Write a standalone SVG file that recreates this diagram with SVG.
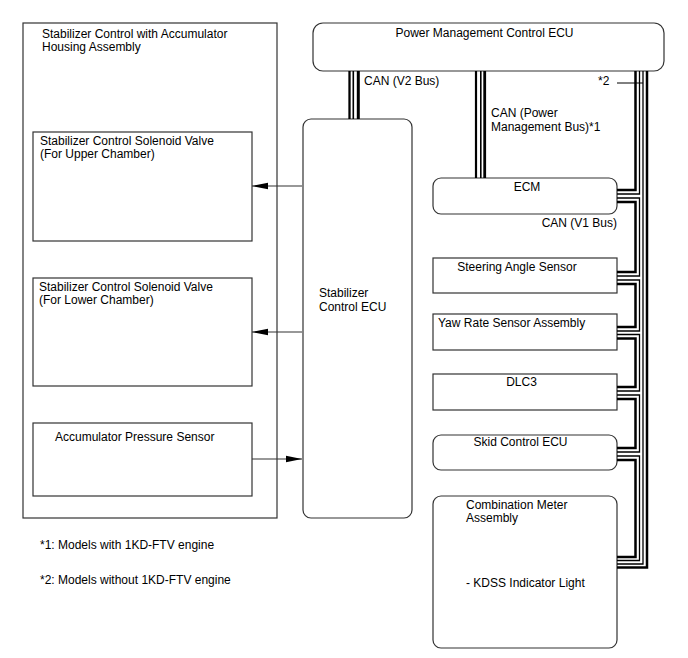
<svg xmlns="http://www.w3.org/2000/svg" width="688" height="658" viewBox="0 0 688 658">
<defs>
<style>
text{font-family:"Liberation Sans",Arial,sans-serif;font-size:12px;fill:#000}
.box{fill:#fff;stroke:#333;stroke-width:1.2}
.sig{stroke:#333;stroke-width:1.2;fill:none}
.tk{stroke:#000;stroke-width:2.5;fill:none;stroke-linejoin:miter}
.tn{stroke:#000;stroke-width:1.3;fill:none;stroke-linejoin:miter}
</style>
<marker id="ah" markerWidth="16" markerHeight="8" refX="16" refY="4" orient="auto" markerUnits="userSpaceOnUse">
<path d="M0,0.8 L16,4 L0,7.2 Z" fill="#000"/>
</marker>
</defs>
<rect width="688" height="658" fill="#fff"/>

<g id="housing">
<rect class="box" x="23" y="23" width="254" height="495"/>
<text x="42" y="38">Stabilizer Control with Accumulator</text>
<text x="42" y="50.5">Housing Assembly</text>
</g>
<g id="valve-upper">
<rect class="box" x="33" y="132" width="219" height="109"/>
<text x="40" y="145">Stabilizer Control Solenoid Valve</text>
<text x="40" y="158">(For Upper Chamber)</text>
</g>
<g id="valve-lower">
<rect class="box" x="33" y="278" width="219" height="108"/>
<text x="39" y="291">Stabilizer Control Solenoid Valve</text>
<text x="39" y="304">(For Lower Chamber)</text>
</g>
<g id="acc-sensor">
<rect class="box" x="33" y="423" width="219" height="73"/>
<text x="55" y="440.5">Accumulator Pressure Sensor</text>
</g>
<g id="stab-ecu">
<rect class="box" x="303" y="119" width="109" height="399" rx="8"/>
<text x="319" y="297">Stabilizer</text>
<text x="319" y="311">Control ECU</text>
</g>
<g id="pmc-ecu">
<rect class="box" x="313" y="23" width="351" height="48" rx="10"/>
<text x="484.5" y="36.5" text-anchor="middle">Power Management Control ECU</text>
</g>
<g id="ecm">
<rect class="box" x="433" y="178" width="184" height="36" rx="8"/>
<text x="527" y="191" text-anchor="middle">ECM</text>
</g>
<g id="steering">
<rect class="box" x="433" y="258" width="184" height="35"/>
<text x="517" y="271" text-anchor="middle">Steering Angle Sensor</text>
</g>
<g id="yaw">
<rect class="box" x="433" y="314" width="184" height="36"/>
<text x="438" y="327">Yaw Rate Sensor Assembly</text>
</g>
<g id="dlc3">
<rect class="box" x="433" y="374" width="184" height="36"/>
<text x="521.5" y="386" text-anchor="middle">DLC3</text>
</g>
<g id="skid">
<rect class="box" x="433" y="435" width="184" height="35" rx="8"/>
<text x="520.5" y="446" text-anchor="middle">Skid Control ECU</text>
</g>
<g id="meter">
<rect class="box" x="433" y="496" width="184" height="152" rx="8"/>
<text x="466" y="508.5">Combination Meter</text>
<text x="466" y="521.5">Assembly</text>
<text x="466" y="587">- KDSS Indicator Light</text>
</g>

<g id="connectors">
<line class="sig" x1="302" y1="186" x2="252" y2="186" marker-end="url(#ah)"/>
<line class="sig" x1="302" y1="332" x2="252" y2="332" marker-end="url(#ah)"/>
<line class="sig" x1="252" y1="459" x2="302" y2="459" marker-end="url(#ah)"/>

<!-- CAN V2 bus -->
<line x1="349.5" y1="71" x2="349.5" y2="119" stroke="#000" stroke-width="2.3"/>
<line x1="353.3" y1="71" x2="353.3" y2="119" stroke="#000" stroke-width="1.6"/>
<line x1="358.3" y1="71" x2="358.3" y2="119" stroke="#000" stroke-width="3"/>
<!-- CAN Power Management bus -->
<line x1="476" y1="71" x2="476" y2="178" stroke="#000" stroke-width="2.2"/>
<line x1="480.8" y1="71" x2="480.8" y2="178" stroke="#000" stroke-width="1.6"/>
<line x1="484.7" y1="71" x2="484.7" y2="178" stroke="#000" stroke-width="2.8"/>

<!-- V1 bus: PMC to ECM -->
<polyline class="tk" points="635.5,71 635.5,190 617,190"/>
<polyline class="tn" points="639.5,71 639.5,194 617,194"/>
<!-- PMC to Combination Meter (*2) -->
<polyline class="tn" points="643,71 643,564 617,564"/>
<polyline class="tk" points="647,71 647,567.5 617,567.5"/>
<!-- ECM to Steering -->
<polyline class="tn" points="617,198 639.5,198 639.5,276 617,276"/>
<polyline class="tk" points="617,202 635.5,202 635.5,272 617,272"/>
<!-- Steering to Yaw -->
<polyline class="tn" points="617,280 639.5,280 639.5,331 617,331"/>
<polyline class="tk" points="617,284 635.5,284 635.5,327 617,327"/>
<!-- Yaw to DLC3 -->
<polyline class="tn" points="617,334.5 639.5,334.5 639.5,391 617,391"/>
<polyline class="tk" points="617,338.5 635.5,338.5 635.5,387 617,387"/>
<!-- DLC3 to Skid -->
<polyline class="tn" points="617,395 639.5,395 639.5,452 617,452"/>
<polyline class="tk" points="617,399 635.5,399 635.5,448 617,448"/>
<!-- Skid to Meter -->
<polyline class="tn" points="617,456 639.5,456 639.5,560.5 617,560.5"/>
<polyline class="tk" points="617,460 635.5,460 635.5,557 617,557"/>

<line x1="617" y1="83" x2="643" y2="83" stroke="#000" stroke-width="1"/>
</g>

<g id="labels">
<text x="364" y="85">CAN (V2 Bus)</text>
<text x="491" y="117">CAN (Power</text>
<text x="491" y="131">Management Bus)*1</text>
<text x="598" y="85">*2</text>
<text x="617" y="226.5" text-anchor="end">CAN (V1 Bus)</text>
<text x="40" y="549">*1: Models with 1KD-FTV engine</text>
<text x="40" y="584">*2: Models without 1KD-FTV engine</text>
</g>
</svg>
